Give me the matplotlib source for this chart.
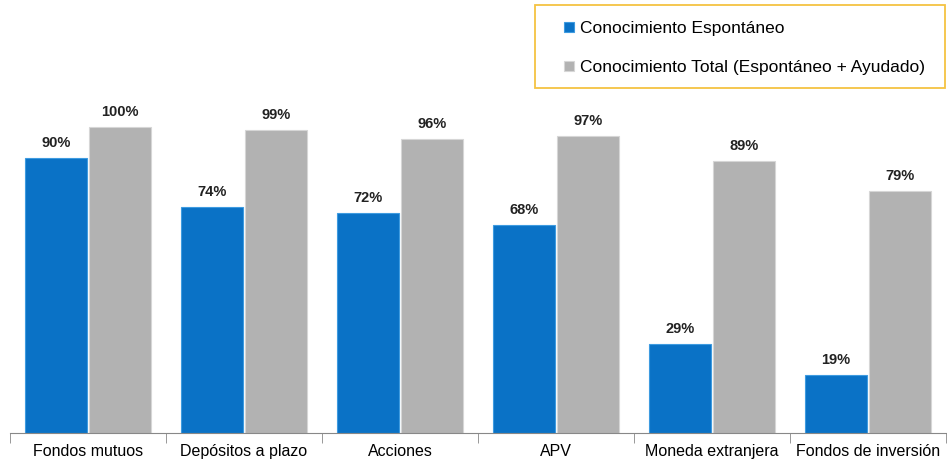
import matplotlib.pyplot as plt
from matplotlib.patches import Rectangle
import numpy as np

categories = ["Fondos mutuos", "Depósitos a plazo", "Acciones", "APV",
              "Moneda extranjera", "Fondos de inversión"]
espontaneo = [90, 74, 72, 68, 29, 19]
total = [100, 99, 96, 97, 89, 79]
series_names = ["Conocimiento Espontáneo",
                "Conocimiento Total (Espontáneo + Ayudado)"]

plt.rcParams['font.family'] = ['Liberation Sans', 'DejaVu Sans']

fig = plt.figure(figsize=(9.47, 4.59), dpi=100)
# baseline at y=433 px, 100% at y=127 px
ax = fig.add_axes([10 / 947, 26 / 459, 936 / 947, 336.6 / 459])

x = np.arange(len(categories))
w = 0.4
b1 = ax.bar(x - 0.205, espontaneo, w, color="#0A72C6", edgecolor="#3E9BE0",
            linewidth=0.8, label=series_names[0])
b2 = ax.bar(x + 0.205, total, w, color="#B2B2B2", edgecolor="#D6D6D6",
            linewidth=0.8, label=series_names[1])

for bars, vals in ((b1, espontaneo), (b2, total)):
    for r, v in zip(bars, vals):
        ax.text(r.get_x() + r.get_width() / 2, v + 2.6, "{}%".format(v),
                ha="center", va="bottom", fontsize=10.5, fontweight="bold",
                color="#222222")

ax.set_xlim(-0.5, len(categories) - 0.5)
ax.set_ylim(0, 110)
ax.set_yticks([])
for s in ("left", "right", "top"):
    ax.spines[s].set_visible(False)
ax.spines["bottom"].set_color("#888888")

ax.set_xticks(x)
ax.set_xticklabels(categories, fontsize=11.5)
ax.tick_params(axis="x", length=0, pad=8)
ax.set_xticks(np.arange(len(categories) + 1) - 0.5, minor=True)
ax.tick_params(axis="x", which="minor", length=7, color="#888888")

# legend box drawn by hand
fig.patches.append(Rectangle((535 / 947, 1 - 88 / 459), 410 / 947, 83 / 459,
                             transform=fig.transFigure, fill=False,
                             edgecolor="#F5C342", linewidth=1.3))
leg = fig.legend(loc="upper left", bbox_to_anchor=(564 / 947, 1 - 21 / 459),
                 fontsize=12.5, frameon=False,
                 handlelength=0.55, handleheight=0.55, handletextpad=0.35,
                 labelspacing=1.4, borderpad=0, borderaxespad=0)

fig.savefig("out.png", dpi=100)
